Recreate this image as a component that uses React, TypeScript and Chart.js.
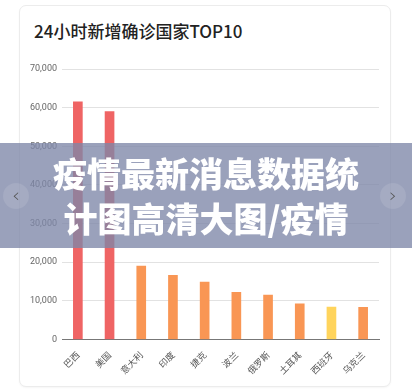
import React, { useEffect, useRef } from "react";
import { Chart, registerables } from "chart.js";

Chart.register(...registerables);

const categories = ["巴西", "美国", "意大利", "印度", "捷克", "波兰", "俄罗斯", "土耳其", "西班牙", "乌克兰"];
const newCases = [61500, 59000, 19000, 16600, 14850, 12200, 11500, 9250, 8400, 8300];
const barColors = ["#ef6464", "#ef6464", "#f99654", "#f99654", "#f99654", "#f99654", "#f99654", "#f99654", "#ffd45c", "#f99654"];
const yTicks = [0, 10000, 20000, 30000, 40000, 50000, 60000, 70000];

const CJK = '"Noto Sans CJK SC", "Noto Sans", sans-serif';

export default function App() {
  const ref = useRef<HTMLCanvasElement | null>(null);

  useEffect(() => {
    document.body.style.margin = "0";
    const canvas = ref.current;
    if (!canvas) return;
    const chart = new Chart(canvas, {
      type: "bar",
      data: {
        labels: categories,
        datasets: [
          {
            data: newCases,
            backgroundColor: barColors,
            borderWidth: 0,
            barThickness: 9,
          },
        ],
      },
      options: {
        responsive: false,
        animation: false,
        maintainAspectRatio: false,
        layout: { padding: { left: 0, right: 33, top: 69, bottom: 0 } },
        plugins: { legend: { display: false }, tooltip: { enabled: false }, title: { display: false } },
        scales: {
          x: {
            grid: { display: false },
            border: { display: true, color: "#777", width: 1 },
            ticks: {
              color: "#555",
              font: { family: CJK, size: 9 },
              minRotation: 45,
              maxRotation: 45,
              padding: 2,
            },
            afterFit: (s: any) => {
              s.height = 392 - 339.5;
            },
          },
          y: {
            min: 0,
            max: 70000,
            afterBuildTicks: (s: any) => {
              s.ticks = yTicks.map((v) => ({ value: v }));
            },
            grid: { color: "#e2e2e2", drawTicks: false },
            border: { display: false },
            ticks: {
              color: "#666",
              font: { family: '"Roboto", "Noto Sans", sans-serif', size: 9 },
              padding: 5,
              callback: (v: any) => Number(v).toLocaleString("en-US"),
            },
            afterFit: (s: any) => {
              s.width = 62;
            },
          },
        },
      },
    });
    return () => chart.destroy();
  }, []);

  return (
    <div style={{ position: "relative", width: 412, height: 392, background: "#fff", overflow: "hidden", fontFamily: CJK }}>
      <div
        style={{
          position: "absolute",
          left: 19,
          top: 5,
          width: 370,
          height: 380,
          border: "1px solid #ececec",
          borderRadius: 7,
          boxShadow: "0 1px 2px rgba(0,0,0,0.04)",
          background: "#fff",
        }}
      />
      <div style={{ position: "absolute", left: 34, top: 19, fontSize: 17, fontWeight: 500, color: "#222", whiteSpace: "nowrap", lineHeight: "24px" }}>
        24小时新增确诊国家TOP10
      </div>
      <canvas ref={ref} width={412} height={392} style={{ position: "absolute", left: 0, top: 0, width: 412, height: 392 }} />
      <div
        style={{
          position: "absolute",
          left: 0,
          top: 143,
          width: 412,
          height: 105,
          background: "rgba(125,134,168,0.78)",
        }}
      />
      <div
        style={{
          position: "absolute",
          left: 0,
          top: 150,
          width: 412,
          textAlign: "center",
          color: "#fff",
          fontWeight: 900,
          fontSize: 34,
          lineHeight: "45px",
          letterSpacing: 0,
        }}
      >
        <div>疫情最新消息数据统</div>
        <div>计图高清大图/疫情</div>
      </div>
      <div
        style={{
          position: "absolute",
          left: 3,
          top: 183,
          width: 26,
          height: 26,
          borderRadius: 13,
          background: "rgba(255,255,255,0.1)",
          color: "#555",
          fontSize: 20,
          lineHeight: "24px",
          textAlign: "center",
          fontFamily: '"DejaVu Sans", sans-serif',
          fontWeight: 200,
        }}
      >
        ‹
      </div>
      <div
        style={{
          position: "absolute",
          left: 380,
          top: 183,
          width: 26,
          height: 26,
          borderRadius: 13,
          background: "rgba(255,255,255,0.1)",
          color: "#555",
          fontSize: 20,
          lineHeight: "24px",
          textAlign: "center",
          fontFamily: '"DejaVu Sans", sans-serif',
          fontWeight: 200,
        }}
      >
        ›
      </div>
    </div>
  );
}
